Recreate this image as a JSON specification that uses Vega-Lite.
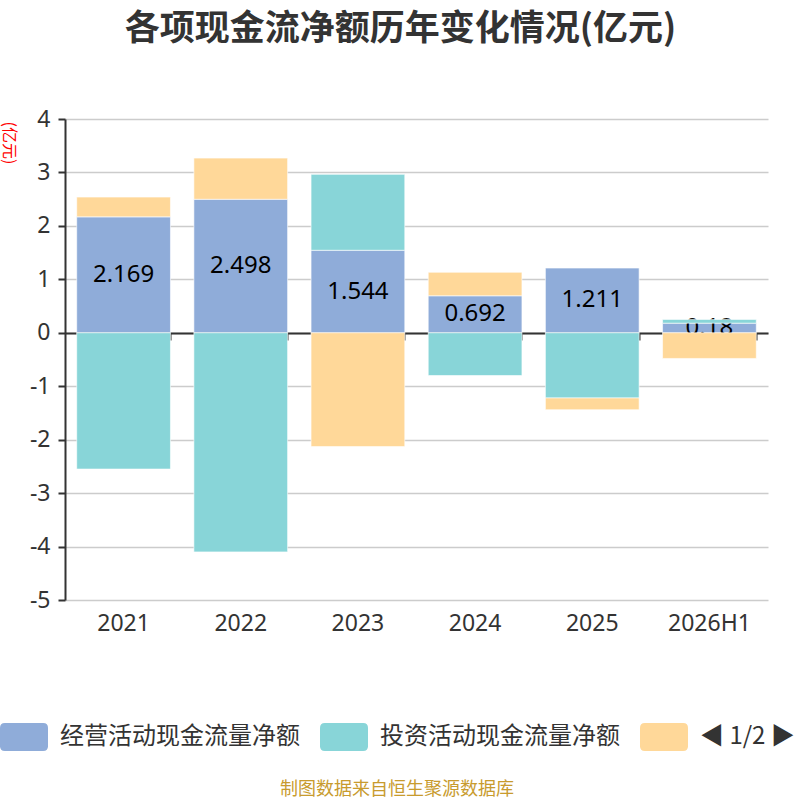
{
  "$schema": "https://vega.github.io/schema/vega-lite/v6.json",
  "width": 703,
  "height": 481,
  "autosize": {"type": "none"},
  "padding": {"left": 65, "top": 119, "right": 32, "bottom": 200},
  "background": "white",
  "title": {
    "text": "各项现金流净额历年变化情况(亿元)",
    "fontSize": 35,
    "fontWeight": "bold",
    "color": "#333333",
    "anchor": "middle",
    "frame": "group",
    "dx": -16,
    "offset": 61
  },
  "data": {
    "values": [
      {"year": "2021", "type": "经营活动现金流量净额", "k": 1, "value": 2.169},
      {"year": "2021", "type": "投资活动现金流量净额", "k": 2, "value": -2.55},
      {"year": "2021", "type": "筹资活动现金流量净额", "k": 3, "value": 0.37},
      {"year": "2022", "type": "经营活动现金流量净额", "k": 1, "value": 2.498},
      {"year": "2022", "type": "投资活动现金流量净额", "k": 2, "value": -4.1},
      {"year": "2022", "type": "筹资活动现金流量净额", "k": 3, "value": 0.77},
      {"year": "2023", "type": "经营活动现金流量净额", "k": 1, "value": 1.544},
      {"year": "2023", "type": "投资活动现金流量净额", "k": 2, "value": 1.42},
      {"year": "2023", "type": "筹资活动现金流量净额", "k": 3, "value": -2.13},
      {"year": "2024", "type": "经营活动现金流量净额", "k": 1, "value": 0.692},
      {"year": "2024", "type": "投资活动现金流量净额", "k": 2, "value": -0.8},
      {"year": "2024", "type": "筹资活动现金流量净额", "k": 3, "value": 0.44},
      {"year": "2025", "type": "经营活动现金流量净额", "k": 1, "value": 1.211},
      {"year": "2025", "type": "投资活动现金流量净额", "k": 2, "value": -1.22},
      {"year": "2025", "type": "筹资活动现金流量净额", "k": 3, "value": -0.22},
      {"year": "2026H1", "type": "经营活动现金流量净额", "k": 1, "value": 0.18},
      {"year": "2026H1", "type": "投资活动现金流量净额", "k": 2, "value": 0.07},
      {"year": "2026H1", "type": "筹资活动现金流量净额", "k": 3, "value": -0.48}
    ]
  },
  "transform": [
    {"stack": "value", "groupby": ["year"], "sort": [{"field": "k", "order": "ascending"}], "as": ["v0", "v1"]},
    {"calculate": "(datum.v0 + datum.v1) / 2", "as": "mid"}
  ],
  "layer": [
    {
      "transform": [{"filter": "datum.k == 1"}],
      "mark": {"type": "bar", "stroke": "#ffffff", "strokeOpacity": 0.6, "strokeWidth": 1},
      "encoding": {
        "x": {
          "field": "year", "type": "nominal", "sort": null,
          "scale": {"paddingInner": 0.2, "paddingOuter": 0.1},
          "axis": {"orient": "bottom", "title": null, "labelAngle": 0, "labelFont": "Noto Sans", "labelFontSize": 23, "labelColor": "#333333", "labelPadding": 12, "ticks": false, "domain": false, "grid": false}
        },
        "y": {
          "field": "v0", "type": "quantitative", "scale": {"domain": [-5, 4]}, "title": "(亿元)",
          "axis": {
            "values": [-5, -4, -3, -2, -1, 0, 1, 2, 3, 4],
            "labelExpr": "'' + datum.value",
            "titleAngle": 90,
            "titleX": -57,
            "titleY": 2,
            "titleAlign": "left",
            "titleBaseline": "middle"
          }
        },
        "y2": {"field": "v1"},
        "color": {
          "field": "type", "type": "nominal",
          "scale": {"domain": ["经营活动现金流量净额", "投资活动现金流量净额", "筹资活动现金流量净额"], "range": ["#8FACD9", "#88D5D8", "#FFD899"]},
          "legend": {
            "title": "制图数据来自恒生聚源数据库",
            "labelExpr": "datum.label == '筹资活动现金流量净额' ? '   ◀ 1/2 ▶' : datum.label"
          }
        }
      }
    },
    {
      "transform": [{"filter": "datum.k == 1"}],
      "mark": {"type": "text", "font": "Noto Sans", "fontSize": 24, "color": "#000000", "baseline": "middle"},
      "encoding": {
        "x": {"field": "year", "type": "nominal", "sort": null, "axis": null},
        "y": {"field": "mid", "type": "quantitative", "title": "(亿元)"},
        "text": {"field": "value", "type": "quantitative"}
      }
    },
    {
      "transform": [{"filter": "datum.k != 1"}],
      "mark": {"type": "bar", "stroke": "#ffffff", "strokeOpacity": 0.6, "strokeWidth": 1},
      "encoding": {
        "x": {
          "field": "year", "type": "nominal", "sort": null,
          "axis": {"orient": "bottom", "offset": -267, "title": null, "labels": false, "ticks": true, "bandPosition": 1, "tickSize": 7, "tickWidth": 2, "tickColor": "#333333", "domain": true, "domainColor": "#333333", "domainWidth": 2, "grid": false}
        },
        "y": {"field": "v0", "type": "quantitative", "title": "(亿元)"},
        "y2": {"field": "v1"},
        "color": {"field": "type", "type": "nominal"}
      }
    }
  ],
  "resolve": {"axis": {"x": "independent"}},
  "config": {
    "font": "Noto Sans CJK SC",
    "view": {"stroke": null},
    "axisY": {
      "labelFont": "Noto Sans",
      "labelFontSize": 23,
      "labelColor": "#333333",
      "labelPadding": 8,
      "tickSize": 7,
      "tickWidth": 2,
      "tickColor": "#333333",
      "domainColor": "#333333",
      "domainWidth": 2,
      "gridColor": "#cccccc",
      "gridWidth": 1.5,
      "titleColor": "#ff0000",
      "titleFontSize": 16,
      "titleFontWeight": "normal"
    },
    "legend": {
      "orient": "none",
      "legendX": -65,
      "legendY": 594,
      "direction": "horizontal",
      "symbolType": "M-0.8,-0.58 H0.8 Q1,-0.58 1,-0.38 V0.38 Q1,0.58 0.8,0.58 H-0.8 Q-1,0.58 -1,0.38 V-0.38 Q-1,-0.58 -0.8,-0.58 Z",
      "symbolSize": 2304,
      "symbolStrokeWidth": 0,
      "symbolOpacity": 1,
      "labelFontSize": 24,
      "labelColor": "#333333",
      "labelOffset": 12,
      "labelLimit": 400,
      "columnPadding": 20,
      "titleOrient": "bottom",
      "titleAnchor": "middle",
      "titleColor": "#C89B2E",
      "titleFontSize": 18,
      "titleFontWeight": "normal",
      "titlePadding": 30,
      "titleLimit": 600
    }
  }
}
